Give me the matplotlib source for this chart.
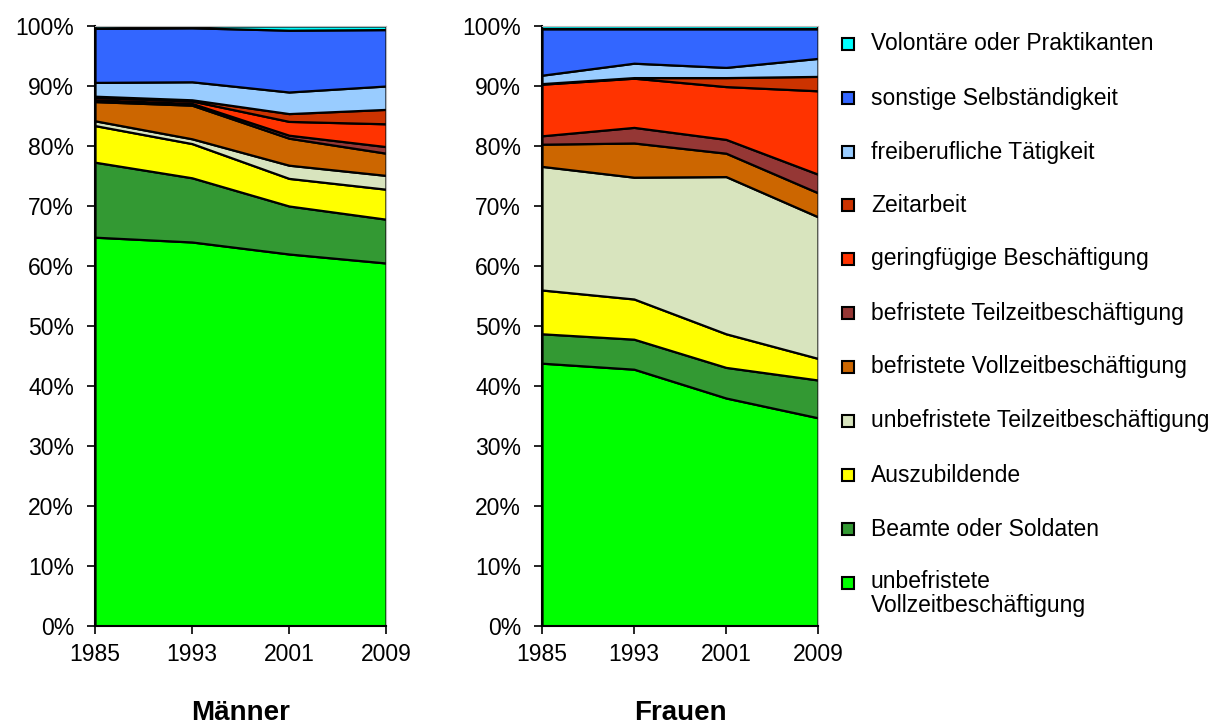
import matplotlib
matplotlib.use("Agg")
import matplotlib.pyplot as plt
from matplotlib.patches import Rectangle
from matplotlib.ticker import PercentFormatter

plt.rcParams["font.family"] = ["Liberation Sans", "DejaVu Sans"]

# ==========================
# Data (shares in %, stacked bottom -> top)
# ==========================

years = [1985, 1993, 2001, 2009]

categories = [
    "unbefristete\nVollzeitbeschäftigung",
    "Beamte oder Soldaten",
    "Auszubildende",
    "unbefristete Teilzeitbeschäftigung",
    "befristete Vollzeitbeschäftigung",
    "befristete Teilzeitbeschäftigung",
    "geringfügige Beschäftigung",
    "Zeitarbeit",
    "freiberufliche Tätigkeit",
    "sonstige Selbständigkeit",
    "Volontäre oder Praktikanten",
]

colors = [
    "#00FF00", "#339933", "#FFFF00", "#D8E4BE", "#CC6600",
    "#953735", "#FF3300", "#CC3300", "#99CCFF", "#3366FF", "#00FFFF",
]

maenner_unbefr_vollzeit = [64.8, 64.0, 62.0, 60.5]
maenner_beamte = [12.5, 10.7, 8.0, 7.3]
maenner_azubi = [6.1, 5.7, 4.6, 5.0]
maenner_unbefr_teilzeit = [0.8, 0.8, 2.2, 2.3]
maenner_befr_vollzeit = [3.2, 5.6, 4.5, 3.7]
maenner_befr_teilzeit = [0.3, 0.3, 0.5, 1.1]
maenner_geringfuegig = [0.4, 0.4, 2.3, 3.8]
maenner_zeitarbeit = [0.2, 0.2, 1.3, 2.4]
maenner_freiberuf = [2.3, 3.0, 3.6, 3.9]
maenner_sonstige = [9.0, 9.0, 10.3, 9.4]
maenner_volontaere = [0.4, 0.3, 0.7, 0.6]

frauen_unbefr_vollzeit = [43.8, 42.8, 38.0, 34.7]
frauen_beamte = [4.9, 5.0, 5.1, 6.3]
frauen_azubi = [7.3, 6.7, 5.6, 3.6]
frauen_unbefr_teilzeit = [20.6, 20.3, 26.2, 23.6]
frauen_befr_vollzeit = [3.7, 5.7, 3.9, 4.0]
frauen_befr_teilzeit = [1.4, 2.6, 2.3, 3.1]
frauen_geringfuegig = [8.6, 8.2, 8.8, 13.9]
frauen_zeitarbeit = [0.1, 0.1, 1.5, 2.4]
frauen_freiberuf = [1.4, 2.4, 1.7, 3.0]
frauen_sonstige = [7.7, 5.7, 6.4, 4.9]
frauen_volontaere = [0.5, 0.5, 0.5, 0.5]

maenner = [
    maenner_unbefr_vollzeit, maenner_beamte, maenner_azubi,
    maenner_unbefr_teilzeit, maenner_befr_vollzeit, maenner_befr_teilzeit,
    maenner_geringfuegig, maenner_zeitarbeit, maenner_freiberuf,
    maenner_sonstige, maenner_volontaere,
]

frauen = [
    frauen_unbefr_vollzeit, frauen_beamte, frauen_azubi,
    frauen_unbefr_teilzeit, frauen_befr_vollzeit, frauen_befr_teilzeit,
    frauen_geringfuegig, frauen_zeitarbeit, frauen_freiberuf,
    frauen_sonstige, frauen_volontaere,
]

# ==========================
# Figure
# ==========================

W, H = 1223, 726

fig = plt.figure(figsize=(W / 100, H / 100), dpi=100)

ax_m = fig.add_axes([95 / W, 1 - 626 / H, 291 / W, 600 / H])
ax_f = fig.add_axes([542 / W, 1 - 626 / H, 276 / W, 600 / H])


def draw_panel(ax, series, title):
    ax.stackplot(
        years,
        series,
        colors=colors,
        edgecolor="black",
        linewidth=1.6,
    )
    ax.set_xlim(years[0], years[-1])
    ax.set_ylim(0, 100)
    ax.set_xticks(years)
    ax.set_yticks(range(0, 101, 10))
    ax.yaxis.set_major_formatter(PercentFormatter(decimals=0))
    ax.tick_params(axis="both", labelsize=16.5, length=6, width=1.2,
                   direction="out")
    ax.tick_params(axis="y", pad=9)
    ax.tick_params(axis="x", pad=6)
    for side in ["left", "bottom"]:
        ax.spines[side].set_linewidth(1.5)
    for side in ["top", "right"]:
        ax.spines[side].set_color("#BBBBBB")
    # title under the panel, baseline near the bottom edge
    ax.text(0.5, -(720 - 626) / 600, title, transform=ax.transAxes,
            ha="center", va="baseline", fontsize=20, fontweight="bold")


draw_panel(ax_m, maenner, "Männer")
draw_panel(ax_f, frauen, "Frauen")

# ==========================
# Legend (top entry first)
# ==========================

legend_y = [44, 98, 152, 205, 259, 313, 367, 421, 475, 529, 583]

for i, label in enumerate(reversed(categories)):
    color = colors[len(colors) - 1 - i]
    y = legend_y[i]
    fig.add_artist(Rectangle(
        (842 / W, 1 - (y + 6) / H), 12 / W, 12 / H,
        transform=fig.transFigure, facecolor=color,
        edgecolor="black", linewidth=1.5,
    ))
    if "\n" in label:
        fig.text(871 / W, 1 - (y - 13) / H, label, ha="left", va="top",
                 fontsize=16.5, linespacing=1.05)
    else:
        fig.text(871 / W, 1 - y / H, label, ha="left", va="center",
                 fontsize=16.5)

fig.savefig("out.png", dpi=100)
